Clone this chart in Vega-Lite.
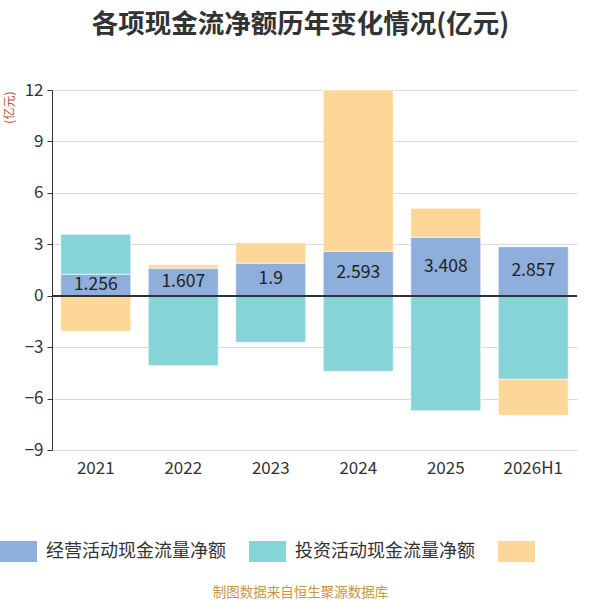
{
  "$schema": "https://vega.github.io/schema/vega-lite/v6.json",
  "autosize": {"type": "none"},
  "width": 525,
  "height": 360,
  "padding": {"left": 52, "top": 90, "right": 23, "bottom": 150},
  "background": "white",
  "config": {
    "font": "Noto Sans CJK SC",
    "view": {"stroke": null}
  },
  "title": {
    "text": "各项现金流净额历年变化情况(亿元)",
    "fontSize": 26.5,
    "fontWeight": "bold",
    "color": "#333333",
    "anchor": "middle",
    "frame": "group",
    "dx": -14,
    "offset": 43
  },
  "data": {
    "values": [
      {"year": "2021", "type": "经营活动现金流量净额", "k": 1, "value": 1.256},
      {"year": "2021", "type": "投资活动现金流量净额", "k": 2, "value": 2.33},
      {"year": "2021", "type": "筹资活动现金流量净额", "k": 3, "value": -2.08},
      {"year": "2022", "type": "经营活动现金流量净额", "k": 1, "value": 1.607},
      {"year": "2022", "type": "投资活动现金流量净额", "k": 2, "value": -4.08},
      {"year": "2022", "type": "筹资活动现金流量净额", "k": 3, "value": 0.2},
      {"year": "2023", "type": "经营活动现金流量净额", "k": 1, "value": 1.9},
      {"year": "2023", "type": "投资活动现金流量净额", "k": 2, "value": -2.72},
      {"year": "2023", "type": "筹资活动现金流量净额", "k": 3, "value": 1.19},
      {"year": "2024", "type": "经营活动现金流量净额", "k": 1, "value": 2.593},
      {"year": "2024", "type": "投资活动现金流量净额", "k": 2, "value": -4.41},
      {"year": "2024", "type": "筹资活动现金流量净额", "k": 3, "value": 9.41},
      {"year": "2025", "type": "经营活动现金流量净额", "k": 1, "value": 3.408},
      {"year": "2025", "type": "投资活动现金流量净额", "k": 2, "value": -6.71},
      {"year": "2025", "type": "筹资活动现金流量净额", "k": 3, "value": 1.69},
      {"year": "2026H1", "type": "经营活动现金流量净额", "k": 1, "value": 2.857},
      {"year": "2026H1", "type": "投资活动现金流量净额", "k": 2, "value": -4.88},
      {"year": "2026H1", "type": "筹资活动现金流量净额", "k": 3, "value": -2.1}
    ]
  },
  "encoding": {
    "x": {
      "field": "year",
      "type": "nominal",
      "sort": null,
      "scale": {"paddingInner": 0.2, "paddingOuter": 0.1},
      "axis": {
        "title": "制图数据来自恒生聚源数据库",
        "titleFontSize": 13.5,
        "titleFontWeight": "normal",
        "titleColor": "#c9963f",
        "titleX": 248,
        "titleY": 142,
        "titleBaseline": "middle",
        "labelAngle": 0,
        "labelFontSize": 17,
        "labelColor": "#333333",
        "labelPadding": 10,
        "domain": false,
        "ticks": false,
        "grid": false
      }
    }
  },
  "layer": [
    {
      "mark": {"type": "bar", "stroke": "white", "strokeWidth": 0.6, "clip": true},
      "encoding": {
        "y": {
          "field": "value",
          "type": "quantitative",
          "stack": "zero",
          "scale": {"domain": [-9, 12], "nice": false},
          "axis": {
            "values": [-9, -6, -3, 0, 3, 6, 9, 12],
            "title": "(亿元)",
            "titleFontSize": 12,
            "titleFontWeight": "normal",
            "titleColor": "#b5532f",
            "titleAngle": -90,
            "titleX": -43,
            "titleY": 1,
            "titleAlign": "right",
            "titleBaseline": "middle",
            "labelFontSize": 17,
            "labelColor": "#333333",
            "labelPadding": 4,
            "domainColor": "#333333",
            "tickColor": "#333333",
            "tickSize": 5,
            "gridColor": "#d9d9d9",
            "gridWidth": 1
          }
        },
        "color": {
          "field": "type",
          "type": "nominal",
          "sort": ["经营活动现金流量净额", "投资活动现金流量净额", "筹资活动现金流量净额"],
          "scale": {
            "domain": ["经营活动现金流量净额", "投资活动现金流量净额", "筹资活动现金流量净额"],
            "range": ["#8eaedb", "#87d4d8", "#fdd797"]
          },
          "legend": {
            "title": null,
            "orient": "none",
            "direction": "horizontal",
            "legendX": -44,
            "legendY": 451,
            "padding": 0,
            "symbolType": "M-1.762,-1H1.762V1H-1.762Z",
            "symbolSize": 441,
            "symbolStrokeWidth": 0,
            "symbolOpacity": 1,
            "labelFontSize": 18,
            "labelColor": "#333333",
            "labelOffset": 17,
            "labelLimit": 300,
            "columnPadding": 22,
            "labelExpr": "datum.label == '筹资活动现金流量净额' ? '' : datum.label"
          }
        },
        "order": {"field": "k", "type": "quantitative"}
      }
    },
    {
      "mark": {"type": "rule", "color": "#333333", "strokeWidth": 1},
      "encoding": {"y": {"datum": 0, "type": "quantitative"}, "x": {}}
    },
    {
      "transform": [
        {"filter": "datum.k == 1"},
        {"calculate": "datum.value / 2", "as": "mid"}
      ],
      "mark": {"type": "text", "fontSize": 17.5, "color": "#222222", "baseline": "middle"},
      "encoding": {
        "y": {"field": "mid", "type": "quantitative"},
        "text": {"field": "value", "type": "quantitative"}
      }
    }
  ]
}
